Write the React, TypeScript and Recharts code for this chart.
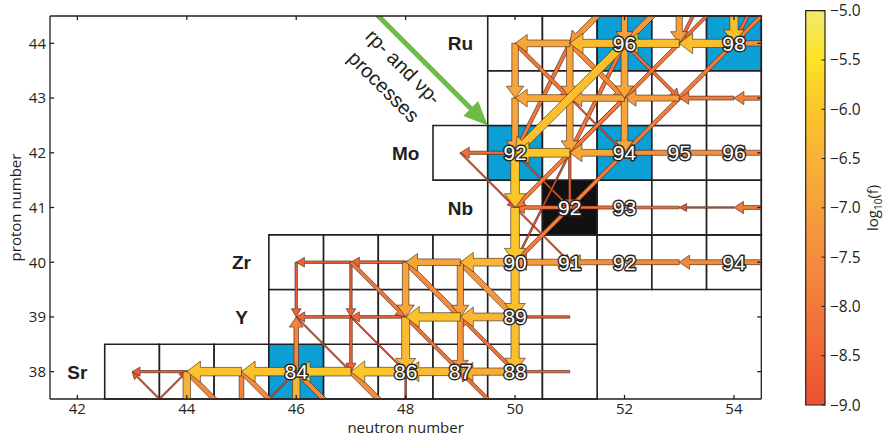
import React from 'react';
import { ScatterChart, XAxis, YAxis, Scatter, ReferenceArea, ReferenceLine } from 'recharts';

const neutronTicks = [42, 44, 46, 48, 50, 52, 54];
const protonTicks = [38, 39, 40, 41, 42, 43, 44];

// rows of the nuclide chart: proton number, first and last neutron number
const rowZ = [38, 39, 40, 41, 42, 43, 44];
const rowFirstN = [43, 46, 46, 50, 49, 50, 50];
const rowLastN = [51, 51, 54, 54, 54, 54, 54];
const elementNames = ['Sr', 'Y', 'Zr', 'Nb', 'Mo', '', 'Ru'];

// [N, Z]
const pNuclei = [[46, 38], [50, 42], [52, 42], [52, 44], [54, 44]];
const blackNuclei = [[51, 41]];
const labelledNuclei = [
  [46, 38], [48, 38], [49, 38], [50, 38], [50, 39], [50, 40], [51, 40], [52, 40], [54, 40],
  [51, 41], [52, 41], [50, 42], [52, 42], [53, 42], [54, 42], [52, 44], [54, 44],
];

// reaction flows: [from N, from Z, to N, to Z, log10(f)]
const flows = [
  [51, 38, 50, 38, -8.6], [50, 38, 49, 38, -6.6], [49, 38, 48, 38, -6.3], [48, 38, 47, 38, -6.0],
  [47, 38, 46, 38, -6.0], [46, 38, 45, 38, -6.1], [45, 38, 44, 38, -6.1], [44, 38, 43, 38, -8.7],
  [50, 39, 50, 38, -6.2], [49, 39, 49, 38, -7.2], [48, 39, 48, 38, -6.3], [47, 39, 47, 38, -8.5],
  [46, 38, 46, 39, -7.7], [44, 38, 44, 37, -6.5], [46, 38, 46, 37, -6.5], [48, 38, 48, 37, -8.9],
  [45, 38, 45, 37, -7.7], [44, 38, 45, 37, -7.6], [45, 38, 46, 37, -7.6], [47, 38, 48, 37, -7.5],
  [46, 38, 47, 37, -7.6], [45, 37, 46, 38, -9], [50, 37, 49, 38, -8.2], [44, 37, 43, 38, -9],
  [43, 37, 44, 38, -9],
  [51, 39, 50, 39, -8.6], [50, 39, 49, 39, -6.4], [49, 39, 48, 39, -6.1], [48, 39, 47, 39, -8.5],
  [47, 39, 46, 39, -8.5], [50, 40, 50, 39, -6.2], [49, 40, 49, 39, -7.0], [48, 40, 48, 39, -6.9],
  [47, 40, 47, 39, -8.6], [46, 40, 46, 39, -8.6], [47, 40, 48, 39, -8.1], [48, 40, 49, 39, -7.6],
  [49, 40, 50, 39, -7.3], [46, 39, 47, 38, -9], [47, 39, 48, 38, -9], [48, 39, 49, 38, -8.2],
  [50, 38, 49, 39, -8.2],
  [55, 40, 54, 40, -7.6], [54, 40, 53, 40, -7.6], [53, 40, 52, 40, -7.6], [52, 40, 51, 40, -7.5],
  [51, 40, 50, 40, -7.1], [50, 40, 49, 40, -6.4], [49, 40, 48, 40, -6.9], [48, 40, 47, 40, -8.5],
  [47, 40, 46, 40, -8.6], [50, 41, 50, 40, -6.0], [50, 42, 50, 41, -6.0],
  [51, 41, 50, 41, -8.1], [52, 41, 51, 41, -8.3], [53, 41, 52, 41, -8.5], [54, 41, 53, 41, -9],
  [55, 41, 54, 41, -8.0], [50, 41, 51, 40, -9], [49, 42, 50, 41, -9], [50, 42, 51, 41, -8.9],
  [51, 42, 50, 41, -8.0], [51, 42, 51, 41, -8.6], [52, 42, 50, 40, -8.0], [51, 42, 50, 40, -8.9],
  [50, 42, 49, 42, -8.3],
  [51, 42, 50, 42, -6.0], [52, 42, 51, 42, -6.8], [53, 42, 52, 42, -7.5], [54, 42, 53, 42, -7.5],
  [55, 42, 54, 42, -7.5], [50, 43, 50, 42, -6.9], [51, 43, 51, 42, -6.9], [52, 43, 52, 42, -6.9],
  [52, 44, 50, 42, -6.2], [52, 43, 51, 42, -8.0], [51, 43, 52, 42, -9], [54, 44, 52, 42, -8.0],
  [53, 44, 51, 42, -8.1], [51, 44, 50, 42, -8.1], [52, 44, 51, 42, -8.1],
  [55, 43, 54, 43, -7.8], [54, 43, 53, 43, -8.0], [53, 43, 52, 43, -7.1], [52, 43, 51, 43, -6.9],
  [51, 43, 50, 43, -6.8], [50, 44, 50, 43, -6.9], [51, 44, 51, 43, -6.9], [52, 44, 52, 43, -6.8],
  [50, 44, 51, 43, -8.1], [51, 44, 52, 43, -7.6], [52, 44, 53, 43, -8.3],
  [55, 44, 54, 44, -7.4], [54, 44, 53, 44, -6.2], [53, 44, 52, 44, -6.2], [52, 44, 51, 44, -6.3],
  [51, 44, 50, 44, -6.8], [52, 45, 52, 44, -7.0], [53, 45, 53, 44, -7.0], [54, 45, 54, 44, -6.2],
  [52, 45, 51, 44, -7.3], [53, 46, 51, 44, -8.5], [53, 45, 52, 44, -7.2], [54, 46, 52, 44, -8.2],
  [54, 45, 53, 44, -8.3], [54, 46, 53, 44, -8.3], [55, 45, 54, 44, -8.0], [55, 46, 54, 44, -8.3],
];

// colour bar
const cbTicks = [-9, -8.5, -8, -7.5, -7, -6.5, -6, -5.5, -5];
const cbColors = ['#ec5230', '#ef6535', '#f27a3a', '#f48d3e', '#f6a03c', '#f9b235', '#fcc62b', '#fde224', '#f2ea6c'];

// annotation arrow for the rp- and vp-processes
const processArrow = [{ x: 47.2, y: 44.8 }, { x: 49.5, y: 42.5 }];
const processText = [{ n: 47.78, z: 43.39 }];

const ink = '#231f20';
const tickLen = 0.075;

const hexToRgb = (h: string) => [1, 3, 5].map((i) => parseInt(h.slice(i, i + 2), 16));

function fluxColor(v: number) {
  const c = Math.max(-9, Math.min(-5, v));
  let i = 0;
  while (i < cbTicks.length - 2 && c > cbTicks[i + 1]) i++;
  const t = (c - cbTicks[i]) / (cbTicks[i + 1] - cbTicks[i]);
  const a = hexToRgb(cbColors[i]);
  const b = hexToRgb(cbColors[i + 1]);
  return `rgb(${a.map((x, k) => Math.round(x + (b[k] - x) * t)).join(',')})`;
}

const fluxWidth = (v: number) => 1.5 + (Math.max(-9, v) + 9) * 2.4;

function arrowPath(x1: number, y1: number, x2: number, y2: number, w: number, hl: number, hw: number) {
  const dx = x2 - x1;
  const dy = y2 - y1;
  const len = Math.hypot(dx, dy);
  if (len < 1) return '';
  const ux = dx / len, uy = dy / len, px = -uy, py = ux;
  const h = Math.min(hl, len * 0.6);
  const bx = x2 - ux * h, by = y2 - uy * h;
  const pts = [
    [x1 + (px * w) / 2, y1 + (py * w) / 2],
    [bx + (px * w) / 2, by + (py * w) / 2],
    [bx + (px * hw) / 2, by + (py * hw) / 2],
    [x2, y2],
    [bx - (px * hw) / 2, by - (py * hw) / 2],
    [bx - (px * w) / 2, by - (py * w) / 2],
    [x1 - (px * w) / 2, y1 - (py * w) / 2],
  ];
  return 'M' + pts.map((p) => p.map((q) => q.toFixed(2)).join(',')).join('L') + 'Z';
}

const arrowShape = (w: number, color: string) => (p: any) => (
  <path
    d={arrowPath(p.x1, p.y1, p.x2, p.y2, w, 0.9 * w + 6, 1.9 * w + 5)}
    fill={color}
    stroke="#3a2418"
    strokeWidth={0.6}
    strokeLinejoin="round"
    clipPath={p.clipPath}
  />
);

const greenShape = (p: any) => (
  <path d={arrowPath(p.x1, p.y1, p.x2, p.y2, 5, 24, 21)} fill="#6cbd45" clipPath={p.clipPath} />
);

const plainLine = (p: any) => (
  <line x1={p.x1} y1={p.y1} x2={p.x2} y2={p.y2} stroke={ink} strokeWidth={1.3} />
);

const cells: { n: number; z: number; fill: string }[] = [];
rowZ.forEach((z, i) => {
  for (let n = rowFirstN[i]; n <= rowLastN[i]; n++) {
    const isP = pNuclei.some(([a, b]) => a === n && b === z);
    const isB = blackNuclei.some(([a, b]) => a === n && b === z);
    cells.push({ n, z, fill: isB ? '#111111' : isP ? '#0c9fd6' : '#ffffff' });
  }
});

const sortedFlows = [...flows].sort((a, b) => a[4] - b[4]);
const massLabels = labelledNuclei.map(([n, z]) => ({ n, z, a: n + z }));
const elementLabels = rowZ
  .map((z, i) => ({ n: rowFirstN[i] - 1, z, name: elementNames[i] }))
  .filter((d) => d.name);

const frame = [
  [41.5, 37.5, 54.5, 37.5], [41.5, 44.5, 54.5, 44.5], [41.5, 37.5, 41.5, 44.5], [54.5, 37.5, 54.5, 44.5],
  ...neutronTicks.flatMap((n) => [[n, 37.5, n, 37.5 + tickLen], [n, 44.5, n, 44.5 - tickLen]]),
  ...protonTicks.flatMap((z) => [[41.5, z, 41.5 + tickLen, z], [54.5, z, 54.5 - tickLen, z]]),
];

const axisFont = { fill: ink, fontSize: 15, fontFamily: 'Open Sans' };

const App: React.FC = () => {
  return (
    <div style={{ position: 'absolute', left: 0, top: 0, width: 884, height: 438, background: '#fff' }}>
      <ScatterChart width={884} height={438} margin={{ top: 16, right: 122.7, bottom: 0, left: 0 }}>
        <XAxis
          type="number"
          dataKey="n"
          domain={[41.5, 54.5]}
          allowDataOverflow
          ticks={neutronTicks}
          interval={0}
          height={39}
          axisLine={false}
          tickLine={false}
          tickSize={0}
          tickMargin={4}
          tick={axisFont}
          label={{ value: 'neutron number', position: 'insideBottom', offset: 5, ...axisFont }}
        />
        <YAxis
          type="number"
          dataKey="z"
          domain={[37.5, 44.5]}
          allowDataOverflow
          ticks={protonTicks}
          interval={0}
          width={50}
          axisLine={false}
          tickLine={false}
          tickSize={0}
          tickMargin={4}
          tick={axisFont}
          label={{
            value: 'proton number',
            angle: -90,
            position: 'insideLeft',
            offset: 16,
            ...axisFont,
            style: { textAnchor: 'middle' },
          }}
        />
        {cells.map((c) => (
          <ReferenceArea
            key={`c${c.n}-${c.z}`}
            x1={c.n - 0.5}
            x2={c.n + 0.5}
            y1={c.z - 0.5}
            y2={c.z + 0.5}
            fill={c.fill}
            fillOpacity={1}
            stroke={ink}
            strokeWidth={1.6}
            ifOverflow="visible"
          />
        ))}
        {sortedFlows.map((f, i) => (
          <ReferenceLine
            key={`f${i}`}
            segment={[{ x: f[0], y: f[1] }, { x: f[2], y: f[3] }]}
            ifOverflow="hidden"
            shape={arrowShape(fluxWidth(f[4]), fluxColor(f[4]))}
          />
        ))}
        <ReferenceLine segment={processArrow} ifOverflow="hidden" shape={greenShape} />
        {frame.map((s, i) => (
          <ReferenceLine
            key={`b${i}`}
            segment={[{ x: s[0], y: s[1] }, { x: s[2], y: s[3] }]}
            ifOverflow="visible"
            shape={plainLine}
          />
        ))}
        <Scatter
          data={elementLabels}
          isAnimationActive={false}
          shape={(p: any) => (
            <text x={p.cx} y={p.cy + 7} textAnchor="middle" fontFamily="Liberation Sans, Arial" fontWeight="bold" fontSize={19} fill={ink}>
              {p.payload.name}
            </text>
          )}
        />
        <Scatter
          data={processText}
          isAnimationActive={false}
          shape={(p: any) => (
            <g transform={`rotate(45 ${p.cx} ${p.cy})`} fontFamily="Liberation Sans, Arial" fontSize={20} fill={ink}>
              <text x={p.cx} y={p.cy - 7} textAnchor="middle">rp- and νp-</text>
              <text x={p.cx} y={p.cy + 21} textAnchor="middle">processes</text>
            </g>
          )}
        />
        <Scatter
          data={massLabels}
          isAnimationActive={false}
          shape={(p: any) => (
            <text
              x={p.cx}
              y={p.cy + 7.5}
              textAnchor="middle"
              fontFamily="Liberation Sans, Arial"
              fontSize={21}
              fill="#ffffff"
              stroke="#262626"
              strokeWidth={2.8}
              strokeLinejoin="round"
              paintOrder="stroke"
            >
              {p.payload.a}
            </text>
          )}
        />
      </ScatterChart>

      <div style={{ position: 'absolute', left: 780, top: 0 }}>
        <ScatterChart width={104} height={438} margin={{ top: 10.7, right: 0, bottom: 33, left: 25.7 }}>
          <defs>
            <linearGradient id="cbGrad" x1="0" y1="1" x2="0" y2="0">
              {cbTicks.map((t, i) => (
                <stop key={t} offset={(t + 9) / 4} stopColor={cbColors[i]} />
              ))}
            </linearGradient>
          </defs>
          <XAxis type="number" dataKey="x" domain={[0, 1]} hide />
          <YAxis
            type="number"
            dataKey="v"
            orientation="right"
            domain={[-9, -5]}
            ticks={cbTicks}
            interval={0}
            width={59}
            axisLine={false}
            tickLine={false}
            tickSize={0}
            tickMargin={5}
            tick={{ ...axisFont, fontSize: 15.5 }}
            tickFormatter={(v: number) => '\u2212' + Math.abs(v).toFixed(1)}
            label={(props: any) => {
              const vb = props.viewBox || { x: 45, y: 10.7, width: 59, height: 394.3 };
              const x = vb.x + 53;
              const y = vb.y + vb.height / 2;
              return (
                <text x={x} y={y} transform={`rotate(-90 ${x} ${y})`} textAnchor="middle" fill={ink} fontSize={15} fontFamily="Open Sans">
                  log<tspan fontSize={10} dy={4}>10</tspan>
                  <tspan dy={-4}>(f)</tspan>
                </text>
              );
            }}
          />
          <ReferenceArea x1={0} x2={1} y1={-9} y2={-5} fill="url(#cbGrad)" fillOpacity={1} stroke={ink} strokeWidth={1.2} />
          <Scatter
            data={cbTicks.map((v) => ({ x: 1, v }))}
            isAnimationActive={false}
            shape={(p: any) => <line x1={p.cx - 3.5} x2={p.cx} y1={p.cy} y2={p.cy} stroke={ink} strokeWidth={1} />}
          />
        </ScatterChart>
      </div>
    </div>
  );
};

export default App;
